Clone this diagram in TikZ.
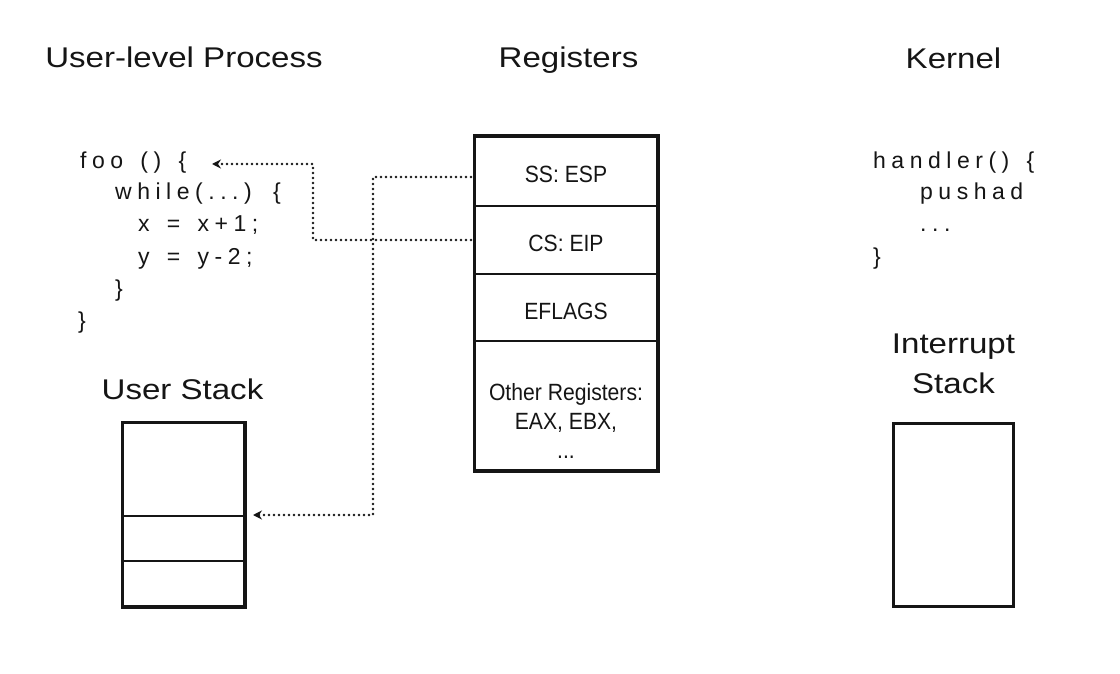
\documentclass[tikz,border=0pt]{standalone}
\usepackage{fontspec}
\setmainfont{Liberation Sans}
\newfontfamily\titlefont{Liberation Sans}[FakeStretch=1.16]
\newfontfamily\codefont{Liberation Sans}[LetterSpace=24,WordSpace=1.45]
\newfontfamily\regfont{Liberation Sans}[FakeStretch=0.9]
\usetikzlibrary{arrows.meta,calc}
\definecolor{ink}{HTML}{151515}
\begin{document}
\begin{tikzpicture}[x=1pt,y=-1pt,
  title/.style={font=\titlefont\fontsize{28.5}{40}\selectfont, inner sep=0pt, text=ink},
  code/.style={font=\codefont\fontsize{23}{32}\selectfont, inner sep=0pt, anchor=base west, text=ink},
  regrow/.style={draw=ink, line width=2pt, minimum width=182pt, inner sep=0pt,
    font=\regfont\fontsize{23.5}{29}\selectfont, text=ink, text height=23pt, text depth=0pt},
  stackrow/.style={draw=ink, line width=2pt, minimum width=121pt, inner sep=0pt},
  outer/.style={draw=ink, line width=3pt},
  dotline/.style={draw=ink, line width=2.6pt, line cap=round, dash pattern=on 0pt off 5pt,
    -{Stealth[length=9pt,width=9pt,inset=3pt]}}
]
\useasboundingbox[fill=white] (0,0) rectangle (1120,674);

% titles
\node[title, anchor=base] (tuser) at (184,68) {User-level Process};
\node[title, anchor=base] (treg) at (568.5,68) {Registers};
\node[title, anchor=base] (tker) at (953.5,69) {Kernel};
\node[title, anchor=base] (tustack) at (182.5,399) {User Stack};
\node[title, anchor=north, align=center] (tistack) at (953.5,334) {Interrupt\\Stack};

% user code
\node[code] (foo) at (80,168) {foo () \{};
\node[code] (while) at (115,200) {while(...) \{};
\node[code] (xl) at (138,232) {x = x+1;};
\node[code] (yl) at (138,264) {y = y-2;};
\node[code] (cb1) at (115,296) {\}};
\node[code] (cb2) at (78,328) {\}};

% kernel code
\node[code] (handler) at (873,168) {handler() \{};
\node[code] (pushad) at (920,200) {pushad};
\node[code] (kdots) at (920,232) {...};
\node[code] (kcb) at (873,264) {\}};

% registers
\node[regrow, minimum height=69pt] (ss) at (566,171.5) {SS: ESP};
\node[regrow, minimum height=68pt] (cs) at (566,240) {CS: EIP};
\node[regrow, minimum height=67pt] (ef) at (566,307.5) {EFLAGS};
\node[regrow, minimum height=129pt] (oth) at (566,405.5) {};
\node[anchor=north, align=center, inner sep=0pt, font=\regfont\fontsize{23.5}{29}\selectfont, text=ink]
  (othtext) at (566,383) {Other Registers:\\EAX, EBX,\\...};
\draw[outer] (ss.north west) rectangle (oth.south east);

% user stack
\node[stackrow, minimum height=93pt] (us1) at (183.5,469.5) {};
\node[stackrow, minimum height=45pt] (us2) at (183.5,538.5) {};
\node[stackrow, minimum height=45pt] (us3) at (183.5,583.5) {};
\draw[outer] (us1.north west) rectangle (us3.south east);

% interrupt stack
\node[draw=ink, line width=3pt, minimum width=120pt, minimum height=183pt, inner sep=0pt] (istack) at (953,514.5) {};

% connectors
\coordinate (footip) at (212,164);
\coordinate (stacktip) at ($(us2.north east)+(8,0)$);
\draw[dotline] ([shift={(-3,5.5)}]ss.west) -- (373,177) |- (stacktip);
\draw[dotline] ([xshift=-3pt]cs.west) -- (313,240) |- (footip);
\end{tikzpicture}
\end{document}
